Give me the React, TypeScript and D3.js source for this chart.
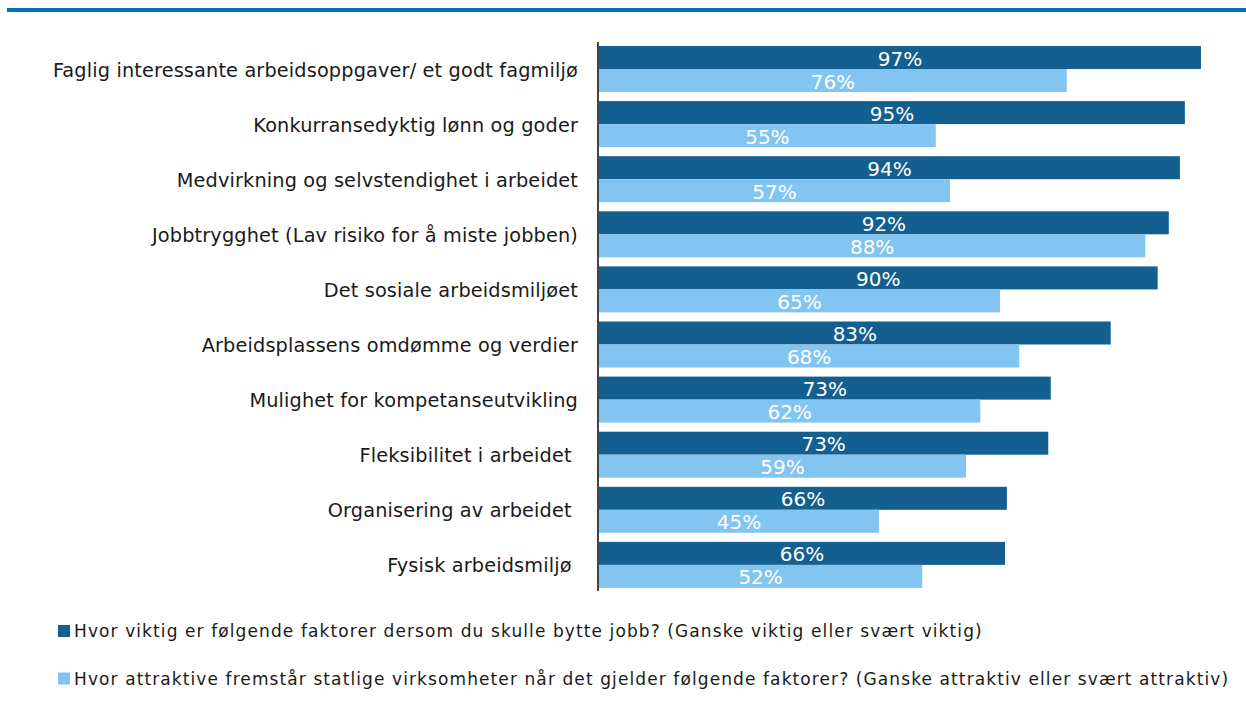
import React from "react";
import * as d3 from "d3";

const categories = [
  "Faglig interessante arbeidsoppgaver/ et godt fagmiljø",
  "Konkurransedyktig lønn og goder",
  "Medvirkning og selvstendighet i arbeidet",
  "Jobbtrygghet (Lav risiko for å miste jobben)",
  "Det sosiale arbeidsmiljøet",
  "Arbeidsplassens omdømme og verdier",
  "Mulighet for kompetanseutvikling",
  "Fleksibilitet i arbeidet ",
  "Organisering av arbeidet ",
  "Fysisk arbeidsmiljø ",
];

const importance = [97.4, 94.8, 94.0, 92.2, 90.4, 82.8, 73.1, 72.7, 66.0, 65.7];
const attractiveness = [75.7, 54.5, 56.8, 88.4, 64.9, 68.0, 61.7, 59.4, 45.3, 52.3];

const seriesNames = [
  "Hvor viktig er følgende faktorer dersom du skulle bytte jobb? (Ganske viktig eller svært viktig)",
  "Hvor attraktive fremstår statlige virksomheter når det gjelder følgende faktorer? (Ganske attraktiv eller svært attraktiv)",
];
const seriesColors = ["#135F8F", "#83C5F1"];

const W = 1246;
const H = 713;
const FONT = "'DejaVu Sans', sans-serif";

export default function App() {
  const x = d3.scaleLinear().domain([0, 100]).range([599, 1217]);
  const y = d3
    .scaleBand<string>()
    .domain(categories)
    .range([46, 46 + 10 * 55.1 - 9.1])
    .paddingInner(9.1 / 55.1)
    .paddingOuter(0);
  const inner = d3
    .scaleBand<number>()
    .domain([0, 1])
    .range([0, y.bandwidth()]);
  const series = [importance, attractiveness];

  return (
    <svg
      width={W}
      height={H}
      style={{ position: "absolute", left: 0, top: 0, background: "#fff" }}
      fontFamily={FONT}
    >
      <rect x={7} y={8} width={W - 7} height={4} fill="#0070C0" />
      {categories.map((c, i) => {
        const gy = y(c)!;
        return (
          <g key={c}>
            <text
              x={578}
              y={gy + y.bandwidth() / 2 + 7.5}
              textAnchor="end"
              fontSize={19.3}
              letterSpacing={0.15}
              fill="#1a1a1a"
              style={{ whiteSpace: "pre" }}
            >
              {c}
            </text>
            {series.map((s, k) => {
              const by = gy + inner(k)!;
              const w = x(s[i]) - x(0);
              return (
                <g key={k}>
                  <rect x={x(0)} y={by} width={w} height={inner.bandwidth()} fill={seriesColors[k]} />
                  <text
                    x={x(0) + w / 2}
                    y={by + 19.5}
                    textAnchor="middle"
                    fontSize={20}
                    fill="#ffffff"
                  >
                    {Math.round(s[i]) + "%"}
                  </text>
                </g>
              );
            })}
          </g>
        );
      })}
      <line x1={598} x2={598} y1={42} y2={591} stroke="#444" strokeWidth={2} />
      {seriesNames.map((n, k) => (
        <g key={n}>
          <rect x={58} y={625 + k * 47.5} width={12} height={12} fill={seriesColors[k]} />
          <text x={74} y={637 + k * 47.5} fontSize={17} letterSpacing={1.1} fill="#1a1a1a">
            {n}
          </text>
        </g>
      ))}
    </svg>
  );
}
